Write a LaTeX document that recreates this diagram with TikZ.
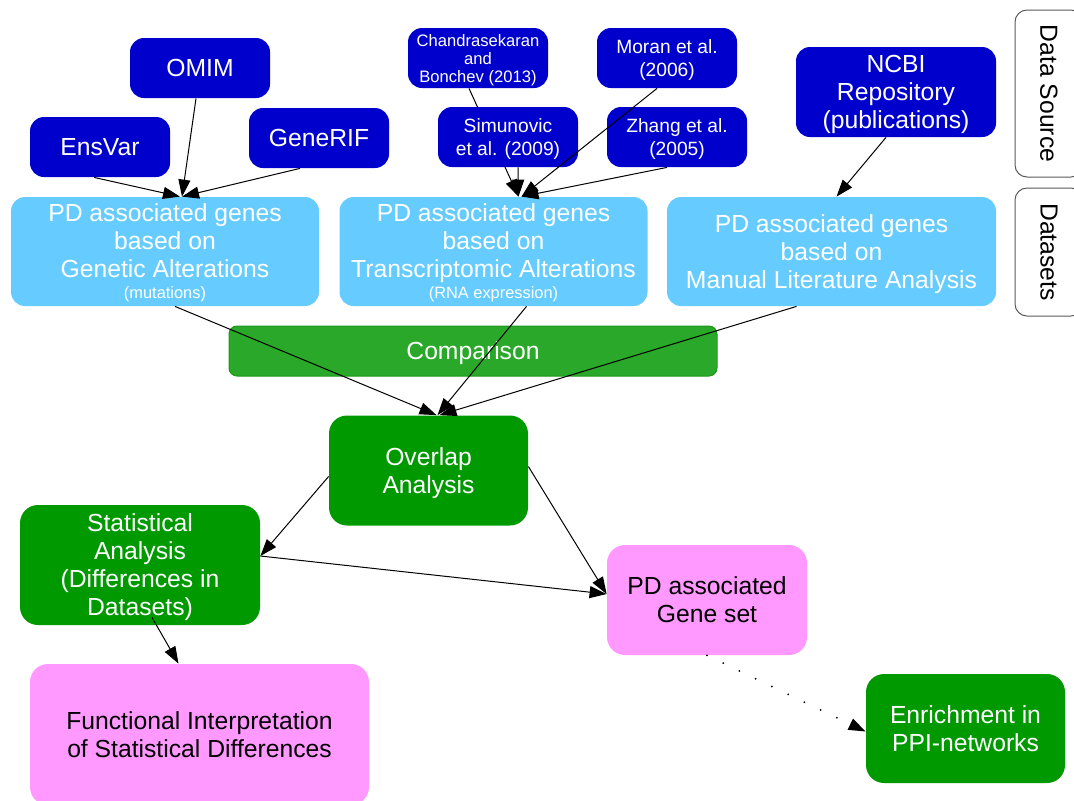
\documentclass[tikz,border=0pt]{standalone}
\usepackage{fontspec}
\setmainfont{Liberation Sans}
\usepackage{tikz}
\usepackage{xcolor}
\definecolor{src_blue}{HTML}{0000CC}
\definecolor{set_blue}{HTML}{66CCFF}
\definecolor{cmp_green}{HTML}{29A829}
\definecolor{cmp_edge}{HTML}{1E961E}
\definecolor{ana_green}{HTML}{009900}
\definecolor{res_pink}{HTML}{FF99FF}
\usetikzlibrary{calc, arrows.meta, backgrounds}

\begin{document}
\begin{tikzpicture}[x=0.5pt,y=-0.5pt,
    basebox/.style={rounded corners=7pt, align=center, inner sep=0pt, text depth=-1pt, text=white, font=\fontsize{12.35}{14}\selectfont},
    srcbox/.style={basebox, fill=src_blue, minimum width=70pt, minimum height=30pt},
    refbox/.style={srcbox, font=\fontsize{9.6}{11.5}\selectfont},
    setbox/.style={basebox, fill=set_blue, minimum width=154pt, minimum height=54.5pt},
    anabox/.style={basebox, fill=ana_green, rounded corners=9pt},
    resbox/.style={basebox, fill=res_pink, text=black, rounded corners=9pt},
    sidebox/.style={basebox, text depth=0pt, draw=black!65, line width=0.5pt, fill=white, text=black, rotate=-90, rounded corners=6pt, minimum height=34pt},
    arr/.style={-{Triangle[length=8.5pt,width=6pt]}, line width=0.5pt},
    ]
    \clip (0,0) rectangle (1074,800);
    %データソース
    \node[srcbox] (omim) at (200,68) {OMIM};
    \node[srcbox] (ensvar) at (100,147) {EnsVar};
    \node[srcbox] (generif) at (319,138) {GeneRIF};
    \node[refbox, font=\fontsize{8.3}{9}\selectfont] (chand) at (478,58) {Chandrasekaran\\and\\Bonchev (2013)};
    \node[refbox] (moran) at (667,58) {Moran et al.\\(2006)};
    \node[refbox] (simu) at (508,137) {Simunovic\\et al. (2009)};
    \node[refbox] (zhang) at (677,137) {Zhang et al.\\(2005)};
    \node[srcbox, minimum width=100pt, minimum height=45pt] (ncbi) at (896,92) {NCBI\\Repository\\(publications)};
    %データセット
    \node[setbox] (gen) at (165,251.5) {PD associated genes\\based on\\Genetic Alterations\\[-3.5pt]{\fontsize{8.2}{9}\selectfont(mutations)}};
    \node[setbox] (trans) at (493.5,251.5) {PD associated genes\\based on\\Transcriptomic Alterations\\[-3.5pt]{\fontsize{8.2}{9}\selectfont(RNA expression)}};
    \node[setbox, minimum width=164.5pt] (manual) at (831.5,251.5) {PD associated genes\\based on\\Manual Literature Analysis};
    \node[basebox, fill=cmp_green, draw=cmp_edge, line width=0.5pt, rounded corners=4pt, minimum width=244pt, minimum height=25pt] (cmp) at (473,351) {Comparison};
    %解析
    \node[anabox, minimum width=99.5pt, minimum height=55pt] (overlap) at (428.5,470.5) {Overlap\\Analysis};
    \node[anabox, minimum width=120pt, minimum height=60pt] (stat) at (140,565) {Statistical\\Analysis\\(Differences in\\Datasets)};
    \node[resbox, minimum width=100pt, minimum height=55pt] (geneset) at (707,600) {PD associated\\Gene set};
    \node[resbox, minimum width=169.5pt, minimum height=70.5pt] (func) at (199.5,734.5) {Functional Interpretation\\of Statistical Differences};
    \node[anabox, minimum width=99.5pt, minimum height=54.5pt] (enrich) at (965.5,728.5) {Enrichment in\\PPI-networks};
    %右の見出し
    \node[sidebox, minimum width=83.5pt] (dsrc) at (1049,93.5) {Data Source};
    \node[sidebox, minimum width=64pt] (dsets) at (1049,252) {Datasets};
    %矢印
    \draw[arr] ($(omim.south)+(-4,0)$) -- ($(gen.north)+(17,0)$);
    \draw[arr] ($(ensvar.south)+(-6,0)$) -- ($(gen.north)+(15,0)$);
    \draw[arr] ($(generif.south)+(-19,0)$) -- ($(gen.north)+(17,0)$);
    \begin{scope}[on background layer]
        \draw[arr] ($(chand.south)+(-9,0)$) -- ($(trans.north)+(25,0)$);
    \end{scope}
    \draw[arr] ($(simu.south)+(10,0)$) -- ($(trans.north)+(25,0)$);
    \draw[arr] ($(moran.south)+(-10,0)$) -- ($(trans.north)+(28,0)$);
    \draw[arr] ($(zhang.south)+(-10,0)$) -- ($(trans.north)+(28,0)$);
    \draw[arr] ($(ncbi.south)+(-10,0)$) -- ($(manual.north)+(5,0)$);
    \draw[arr] ($(gen.south)+(10,0)$) -- ($(overlap.north)+(8,0)$);
    \draw[arr] ($(trans.south)+(33,0)$) -- ($(overlap.north)+(9,0)$);
    \draw[arr] ($(manual.south)+(-35,0)$) -- ($(overlap.north)+(11,0)$);
    \draw[arr] ($(overlap.west)+(0,6)$) -- ($(stat.east)+(0,-9)$);
    \draw[arr] ($(overlap.east)+(0,-4)$) -- ($(geneset.west)+(0,-6)$);
    \draw[arr] ($(stat.east)+(0,-9)$) -- ($(geneset.west)+(0,-6)$);
    \draw[arr] ($(stat.south)+(12,-8)$) -- ($(func.north)+(-21,0)$);
    \draw[arr, dash pattern=on 0pt off 9pt, line cap=round, line width=1pt] (geneset.south) -- ($(enrich.west)+(0,3)$);
\end{tikzpicture}
\end{document}
